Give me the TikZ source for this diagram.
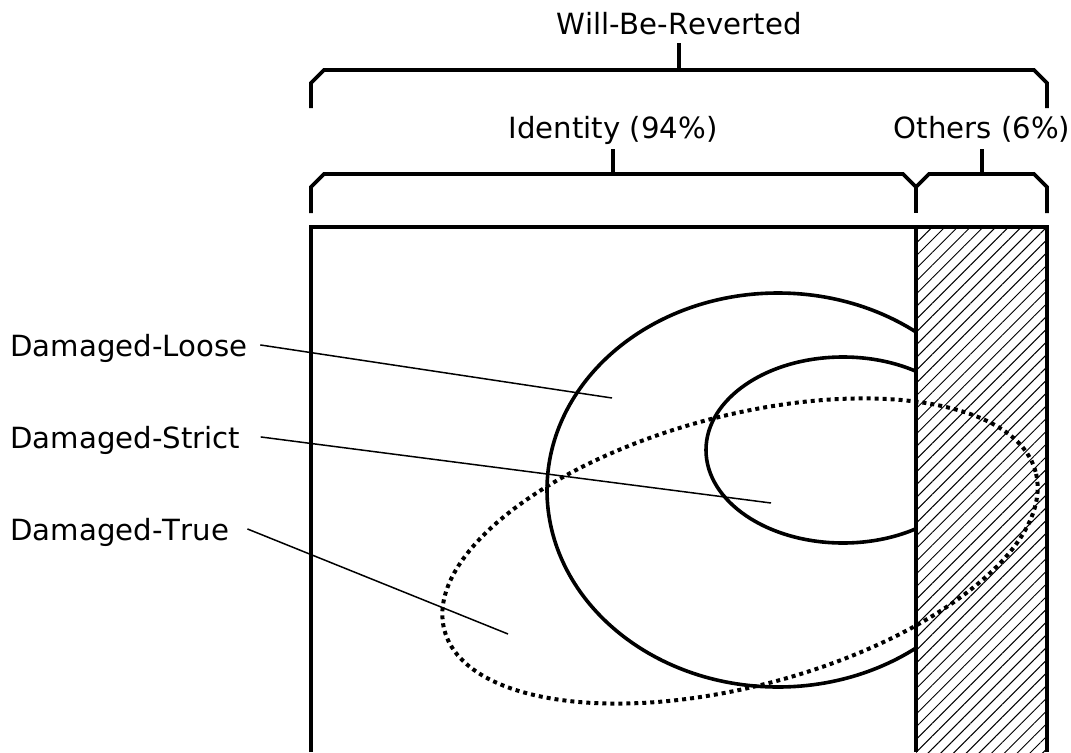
\documentclass[tikz,border=0pt]{standalone}
\usepackage{fontspec}
\setmainfont[Kerning=Off]{DejaVu Sans}
\usepackage{tikz}
\usetikzlibrary{patterns.meta}

\tikzset{
  lbl/.style={inner sep=0pt,font=\fontsize{14.6}{17}\selectfont},
  brace/.style={line width=1.8pt,line join=miter},
  ring/.style={line width=1.8pt},
  ptr/.style={line width=0.75pt},
}

\begin{document}
\begin{tikzpicture}[x=0.5pt,y=0.5pt]
\useasboundingbox (0,0) rectangle (1071,752);
\draw[ring] (778,262) ellipse [x radius=231,y radius=197];
\draw[ring] (843,302) ellipse [x radius=137,y radius=93];
\fill[white] (916,0) rectangle (1047,525);
\fill[pattern={Lines[angle=45,distance=4.5pt,line width=0.5pt]}] (916,0) rectangle (1047,525);
\draw[line width=2pt,dash pattern=on 2pt off 2pt] (740,201) ellipse [x radius=306,y radius=135,rotate=15];
\draw[line width=2pt] (311,0) -- (311,525) -- (1047,525) -- (1047,0);
\draw[line width=2pt] (916,0) -- (916,525);

\draw[brace] (311,644) -- (311,669) -- (324,682) -- (1034,682) -- (1047,669) -- (1047,644);
\draw[brace] (679,682) -- (679,709);
\draw[brace] (311,539) -- (311,565) -- (324,578) -- (903,578) -- (916,565) -- (929,578) -- (1034,578) -- (1047,565) -- (1047,539);
\draw[brace] (916,565) -- (916,539);
\draw[brace] (613,578) -- (613,603);
\draw[brace] (982,578) -- (982,603);

\node[lbl,anchor=base] (wbr) at (679,718) {Will-Be-Reverted};
\node[lbl,anchor=base] (ident) at (613,614) {Identity (94\%)};
\node[lbl,anchor=base] (others) at (982,614) {Others (6\%)};
\node[lbl,anchor=base west] (loose) at (10,396) {Damaged-Loose};
\node[lbl,anchor=base west] (strict) at (10,304) {Damaged-Strict};
\node[lbl,anchor=base west] (true) at (10,212) {Damaged-True};

\coordinate (loosept) at (612,354);
\coordinate (strictpt) at (771,249);
\coordinate (truept) at (508,118);
\draw[ptr] ([shift={(12,3)}]loose.east) -- (loosept);
\draw[ptr] ([shift={(20,3)}]strict.east) -- (strictpt);
\draw[ptr] ([shift={(18,3)}]true.east) -- (truept);
\end{tikzpicture}
\end{document}
